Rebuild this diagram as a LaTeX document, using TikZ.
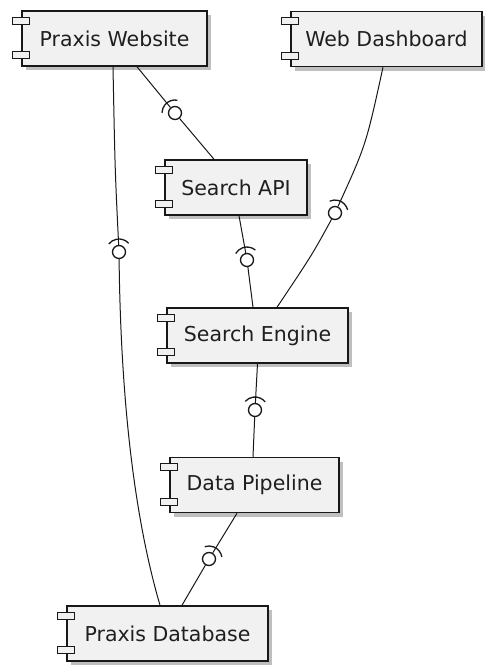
\documentclass[tikz,border=0pt]{standalone}
\usepackage{fontspec}
\setmainfont{DejaVu Sans}
\usetikzlibrary{shadows,calc}
\definecolor{edge}{HTML}{181818}
\definecolor{boxfill}{HTML}{F1F1F1}
\tikzset{
  comp/.style={rectangle, draw=edge, fill=boxfill, line width=1.5pt,
    minimum height=55pt, inner xsep=0pt, text=black!88,
    font=\fontsize{20.5}{24}\selectfont,
    drop shadow={shadow xshift=4pt, shadow yshift=-4pt, fill=black, opacity=0.25}},
  port/.style={draw=edge, fill=boxfill, line width=1.2pt},
  link/.style={draw=edge, line width=1pt},
  ball/.style={circle, draw=edge, line width=1.3pt, fill=white, minimum size=13pt, inner sep=0pt},
  pics/socket/.style={code={
    \draw[edge, line width=1.3pt] (#1-50:13pt) arc[start angle=#1-50, end angle=#1+50, radius=13pt];}}
}
\newcommand{\compports}[1]{%
  \draw[port] ($(#1.north west)+(-8.5pt,-7pt)$) rectangle ++(17pt,-7pt);
  \draw[port] ($(#1.south west)+(-8.5pt,8pt)$) rectangle ++(17pt,7pt);}
\begin{document}
\begin{tikzpicture}[x=1pt,y=1pt]
\useasboundingbox (0,0) rectangle (485,-665);

% components
\node[comp, minimum width=185pt] (web)  at (114.5,-38.5) {Praxis Website};
\node[comp, minimum width=191pt] (dash) at (386.5,-39)   {Web Dashboard};
\node[comp, minimum width=142pt] (api)  at (236,-187.5)  {Search API};
\node[comp, minimum width=181pt] (eng)  at (257.5,-335.5){Search Engine};
\node[comp, minimum width=169pt] (pipe) at (254.5,-485)  {Data Pipeline};
\node[comp, minimum width=201pt] (db)   at (167.5,-633.5){Praxis Database};
\foreach \c in {web,dash,api,eng,pipe,db} {\compports{\c}}

% provided interfaces (balls)
\node[ball] (c1) at (175,-113) {};
\node[ball] (c2) at (119,-252) {};
\node[ball] (c3) at (335,-213) {};
\node[ball] (c4) at (247,-260) {};
\node[ball] (c5) at (255,-410) {};
\node[ball] (c6) at (209,-559) {};

% connectors
\draw[link] ([xshift=22.5pt]web.south) -- (c1);
\draw[link] (c1) -- ([xshift=-22pt]api.north);

\draw[link] ([xshift=-1.5pt]web.south) .. controls (115,-170) .. (c2);
\draw[link] (c2) .. controls (121,-420) and (138,-530) .. ([xshift=-7.5pt]db.north);

\draw[link] ([xshift=-3.5pt]dash.south) .. controls (366,-145) .. (c3);
\draw[link] (c3) .. controls (312,-255) .. ([xshift=19.5pt]eng.north);

\draw[link] ([xshift=3pt]api.south) -- (c4);
\draw[link] (c4) -- ([xshift=-4.5pt]eng.north);

\draw[link] (eng.south) -- (c5);
\draw[link] (c5) -- ([xshift=-1.5pt]pipe.north);

\draw[link] ([xshift=-17.5pt]pipe.south) -- (c6);
\draw[link] (c6) -- ([xshift=14.5pt]db.north);

% required interfaces (sockets)
\pic at (c1) {socket=129};
\pic at (c2) {socket=92};
\pic at (c3) {socket=64};
\pic at (c4) {socket=100};
\pic at (c5) {socket=88};
\pic at (c6) {socket=59};
\end{tikzpicture}
\end{document}
